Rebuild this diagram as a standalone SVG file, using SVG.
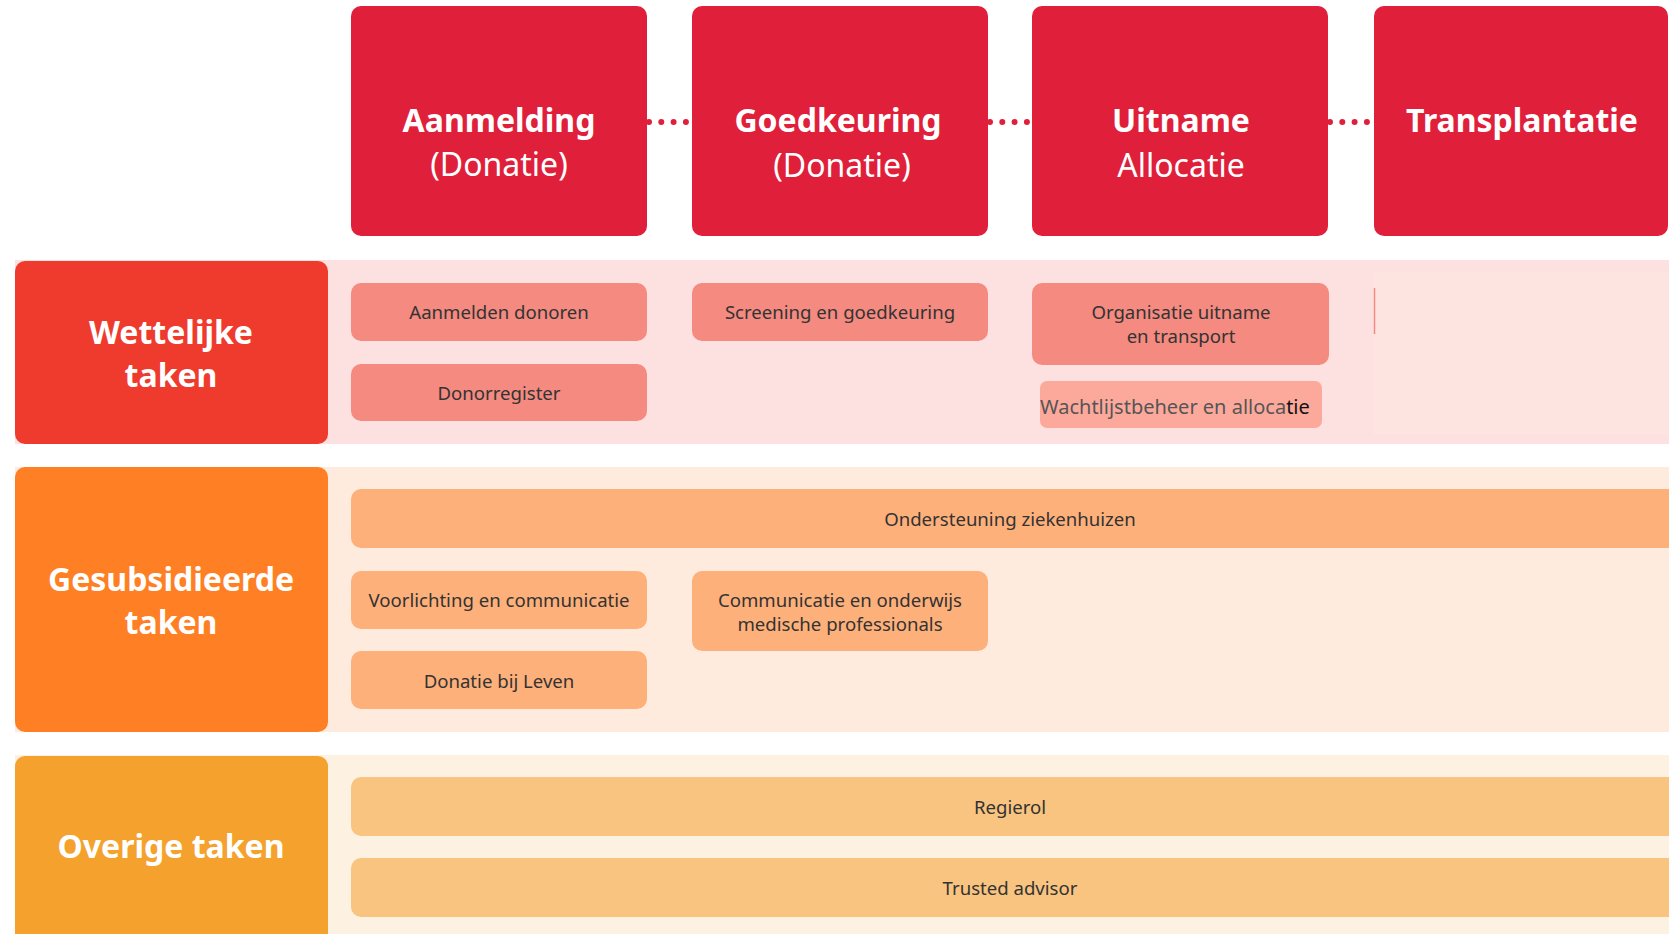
<svg xmlns="http://www.w3.org/2000/svg" width="1669" height="934" viewBox="0 0 1669 934">
<style>
.phase{fill:#E01F3A}
.t{font-family:"Noto Sans","Open Sans",sans-serif;text-anchor:middle}
.ph{font-size:32px;fill:#fff}
.b{font-weight:bold}
.lab{font-size:32px;fill:#fff;font-weight:bold}
.it{font-size:18.6px;fill:#333}
.w1{fill:#F48A80}
.g1{fill:#FEB07A}
.o1{fill:#F9C47F}
.dots{stroke:#E01F3A;stroke-width:6;stroke-linecap:round;stroke-dasharray:0 12.3;fill:none}
</style>
<rect width="1669" height="934" fill="#fff"/>
<!-- bands -->
<rect x="15" y="260" width="1654" height="184" fill="#FDE1E1"/>
<rect x="1374" y="272" width="295" height="163" fill="#FEE4E0"/>
<line x1="1374.5" y1="288" x2="1374.5" y2="334" stroke="#F48A80" stroke-width="1.5"/>
<rect x="15" y="467" width="1654" height="265" fill="#FFEBDD"/>
<rect x="15" y="755" width="1654" height="179" fill="#FDF2E2"/>

<g id="connectors">
<line class="dots" x1="649" y1="122" x2="687" y2="122"/>
<line class="dots" x1="990" y1="122" x2="1028" y2="122"/>
<line class="dots" x1="1330" y1="122" x2="1369" y2="122"/>
</g>

<g id="phase-aanmelding">
<rect class="phase" x="351" y="6" width="296" height="230" rx="10"/>
<text class="t ph b" x="499" y="132">Aanmelding</text>
<text class="t ph" x="499" y="176">(Donatie)</text>
</g>
<g id="phase-goedkeuring">
<rect class="phase" x="692" y="6" width="296" height="230" rx="10"/>
<text class="t ph b" x="838" y="132">Goedkeuring</text>
<text class="t ph" x="842" y="177">(Donatie)</text>
</g>
<g id="phase-uitname">
<rect class="phase" x="1032" y="6" width="296" height="230" rx="10"/>
<text class="t ph b" x="1181" y="132">Uitname</text>
<text class="t ph" x="1181" y="177">Allocatie</text>
</g>
<g id="phase-transplantatie">
<rect class="phase" x="1374" y="6" width="294" height="230" rx="10"/>
<text class="t ph b" x="1522" y="132">Transplantatie</text>
</g>

<g id="label-wettelijke">
<rect x="15" y="261" width="313" height="183" rx="10" fill="#EE3B2E"/>
<text class="t lab" x="171" y="344">Wettelijke</text>
<text class="t lab" x="171" y="387">taken</text>
</g>
<g id="label-gesubsidieerde">
<rect x="15" y="467" width="313" height="265" rx="10" fill="#FE7F24"/>
<text class="t lab" x="171" y="591">Gesubsidieerde</text>
<text class="t lab" x="171" y="634">taken</text>
</g>
<g id="label-overige">
<rect x="15" y="756" width="313" height="200" rx="10" fill="#F4A22D"/>
<text class="t lab" x="171" y="858">Overige taken</text>
</g>

<g id="item-aanmelden-donoren">
<rect class="w1" x="351" y="283" width="296" height="58" rx="10"/>
<text class="t it" x="499" y="319">Aanmelden donoren</text>
</g>
<g id="item-donorregister">
<rect class="w1" x="351" y="364" width="296" height="57" rx="10"/>
<text class="t it" x="499" y="400">Donorregister</text>
</g>
<g id="item-screening">
<rect class="w1" x="692" y="283" width="296" height="58" rx="10"/>
<text class="t it" x="840" y="319">Screening en goedkeuring</text>
</g>
<g id="item-organisatie">
<rect class="w1" x="1032" y="283" width="297" height="82" rx="10"/>
<text class="t it" x="1181" y="319">Organisatie uitname</text>
<text class="t it" x="1181" y="343">en transport</text>
</g>
<g id="item-wachtlijst">
<rect x="1040" y="381" width="282" height="47" rx="7" fill="#FCA99C"/>
<text x="1040" y="414" style="font-family:'Noto Sans','Open Sans',sans-serif;font-size:20px;fill:#555">Wachtlijstbeheer en alloca<tspan fill="#111">tie</tspan></text>
</g>

<g id="item-ondersteuning">
<rect class="g1" x="351" y="489" width="1328" height="59" rx="10"/>
<text class="t it" x="1010" y="526">Ondersteuning ziekenhuizen</text>
</g>
<g id="item-voorlichting">
<rect class="g1" x="351" y="571" width="296" height="58" rx="10"/>
<text class="t it" x="499" y="607">Voorlichting en communicatie</text>
</g>
<g id="item-donatie-leven">
<rect class="g1" x="351" y="651" width="296" height="58" rx="10"/>
<text class="t it" x="499" y="688">Donatie bij Leven</text>
</g>
<g id="item-communicatie">
<rect class="g1" x="692" y="571" width="296" height="80" rx="10"/>
<text class="t it" x="840" y="607">Communicatie en onderwijs</text>
<text class="t it" x="840" y="631">medische professionals</text>
</g>

<g id="item-regierol">
<rect class="o1" x="351" y="777" width="1328" height="59" rx="10"/>
<text class="t it" x="1010" y="814">Regierol</text>
</g>
<g id="item-trusted">
<rect class="o1" x="351" y="858" width="1328" height="59" rx="10"/>
<text class="t it" x="1010" y="895">Trusted advisor</text>
</g>
</svg>
